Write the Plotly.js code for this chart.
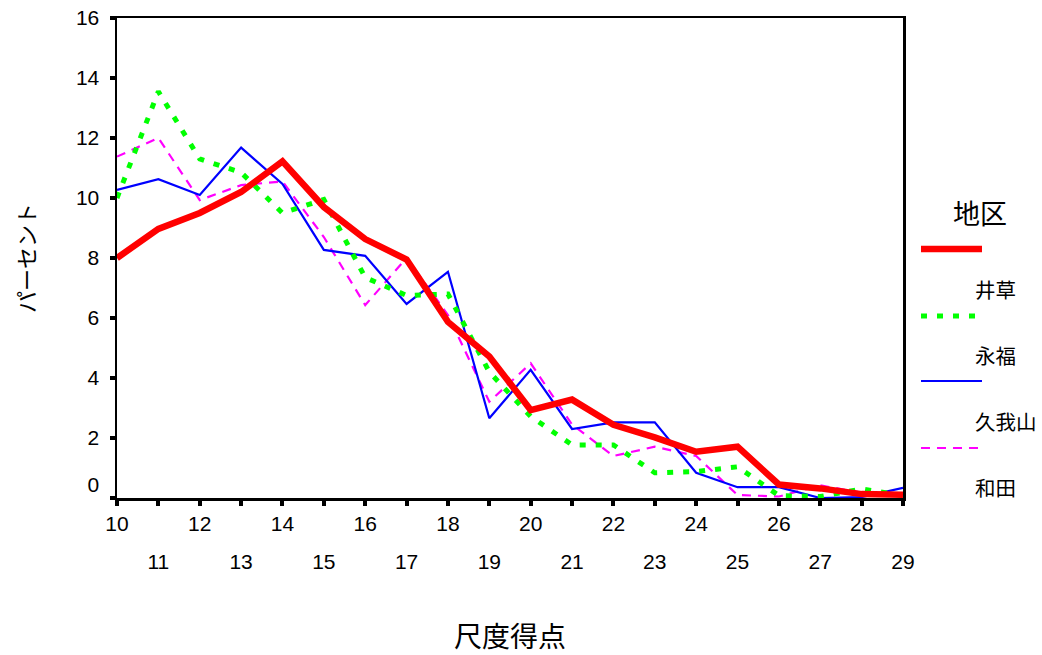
<!DOCTYPE html>
<html>
<head>
<meta charset="utf-8">
<script src="https://cdn.plot.ly/plotly-3.0.1.min.js"></script>
<style>html,body{margin:0;padding:0;background:#fff;}#chart{width:1042px;height:655px;}</style>
</head>
<body>
<div id="chart"></div>
<script>
// ---- data ----
const scores = [10,11,12,13,14,15,16,17,18,19,20,21,22,23,24,25,26,27,28,29];
const seriesNames = ['井草','永福','久我山','和田'];
const igusa    = [8.0, 8.97, 9.5, 10.2, 11.22, 9.7, 8.63, 7.95, 5.87, 4.72, 2.93, 3.28, 2.44, 2.02, 1.54, 1.71, 0.45, 0.32, 0.13, 0.11];
const eifuku   = [10.0, 13.55, 11.3, 10.85, 9.5, 9.95, 7.35, 6.75, 6.8, 4.2, 2.72, 1.77, 1.77, 0.84, 0.88, 1.04, 0.08, 0.05, 0.3, 0.08];
const kugayama = [10.27, 10.63, 10.1, 11.68, 10.47, 8.27, 8.07, 6.47, 7.54, 2.66, 4.27, 2.3, 2.52, 2.52, 0.84, 0.36, 0.36, 0.0, 0.03, 0.34];
const wada     = [11.38, 12.0, 9.93, 10.43, 10.55, 8.7, 6.43, 8.0, 6.1, 3.21, 4.49, 2.45, 1.4, 1.71, 1.4, 0.1, 0.05, 0.42, 0.18, 0.1];
const yTicks = [0,2,4,6,8,10,12,14,16];
const xEvenTicks = [10,12,14,16,18,20,22,24,26,28];
const xOddTicks = [11,13,15,17,19,21,23,25,27,29];
const legendTitle = '地区';
const xTitle = '尺度得点';
const yTitle = 'パーセント';

// ---- styles ----
const styles = [
  {color:'#FF0000', width:6.5, dash:'solid'},
  {color:'#00FF00', width:5, dash:'6px,10px'},
  {color:'#0000FF', width:2.2, dash:'solid'},
  {color:'#FF00FF', width:2.2, dash:'9px,7px'}
];
const seriesData = [igusa, eifuku, kugayama, wada];

// draw back-to-front; the red series sits on the overlaid axis (drawn on top)
const traces = [];
for (let i = seriesData.length - 1; i >= 0; i--) {
  traces.push({
    type:'scatter', mode:'lines', name: seriesNames[i],
    x: scores, y: seriesData[i], xaxis: i === 0 ? 'x2' : 'x', yaxis:'y',
    line: {color: styles[i].color, width: styles[i].width, dash: styles[i].dash},
    showlegend:false, hoverinfo:'x+y+name'
  });
}

const tickFont = {family:'Liberation Sans, Arial, sans-serif', size:21, color:'#000'};
const cjk = 'Noto Sans CJK JP, sans-serif';

// legend drawn by hand (SPSS-style offset labels)
const legSymY = [0.5188, 0.3792, 0.2438, 0.1042];
const legTxtY = [0.435, 0.298, 0.160, 0.0229];
const shapes = [];
const annotations = [];
annotations.push({xref:'paper', yref:'paper', x:1.098, y:0.594, text:legendTitle, showarrow:false,
  xanchor:'center', yanchor:'middle', font:{family:cjk, size:27, color:'#000'}});
for (let i = 0; i < seriesNames.length; i++) {
  shapes.push({type:'line', xref:'paper', yref:'paper', x0:1.0229, x1:1.1005, y0:legSymY[i], y1:legSymY[i],
    line:{color:styles[i].color, width:styles[i].width, dash:styles[i].dash}});
  annotations.push({xref:'paper', yref:'paper', x:1.089, y:legTxtY[i], text:seriesNames[i], showarrow:false,
    xanchor:'left', yanchor:'middle', font:{family:cjk, size:20.5, color:'#000'}});
}

const layout = {
  width:1042, height:655,
  margin:{l:117, r:139, t:18, b:157, pad:0},
  paper_bgcolor:'#fff', plot_bgcolor:'#fff',
  showlegend:false,
  xaxis:{
    range:[10,29], tickmode:'array', tickvals:scores,
    ticktext: scores.map(v => xEvenTicks.includes(v) ? String(v) : ''),
    ticks:'outside', ticklen:5, tickwidth:4, tickcolor:'#000',
    showline:true, linecolor:'#000', linewidth:2.5, mirror:true,
    showgrid:false, zeroline:false, tickfont:tickFont,
    title:{text:xTitle, font:{family:cjk, size:28, color:'#000'}, standoff:96}
  },
  xaxis2:{
    overlaying:'x', anchor:'y', side:'bottom',
    range:[10,29], tickmode:'array', tickvals:xOddTicks,
    ticks:'outside', ticklen:5, tickwidth:1, tickcolor:'rgba(0,0,0,0)',
    ticklabelstandoff:40,
    showline:false, showgrid:false, zeroline:false, tickfont:tickFont
  },
  yaxis:{
    range:[0,16], tickmode:'array', tickvals:yTicks,
    ticktext: yTicks.map(v => v === 0 ? '0<br> ' : String(v)),
    ticks:'outside', ticklen:5, tickwidth:4, tickcolor:'#000',
    ticklabelstandoff:6,
    showline:true, linecolor:'#000', linewidth:2.5, mirror:true,
    showgrid:false, zeroline:false, tickfont:tickFont,
    title:{text:yTitle, font:{family:cjk, size:22, color:'#000'}, standoff:34}
  },
  shapes: shapes,
  annotations: annotations
};

Plotly.newPlot('chart', traces, layout, {displayModeBar:false, staticPlot:true});
</script>
</body>
</html>
